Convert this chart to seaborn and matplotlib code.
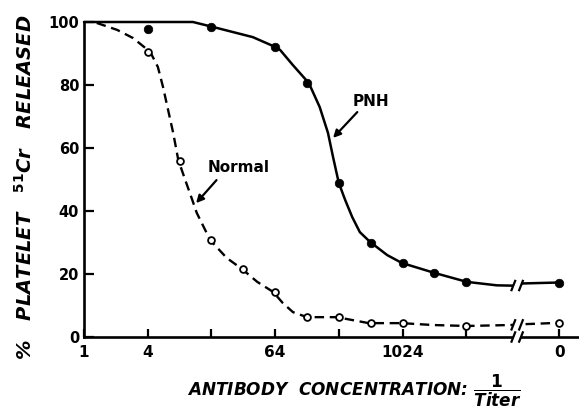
import numpy as np
import pandas as pd
import matplotlib
matplotlib.use("Agg")
import matplotlib.pyplot as plt
import seaborn as sns

pnh_titer = [4, 16, 64, 128, 256, 512, 1024, 2048, 4096, 0]
pnh_release = [97.8, 98.4, 92, 80.6, 49, 30, 23.6, 20.4, 17.5, 17.3]

normal_titer = [4, 8, 16, 32, 64, 128, 256, 512, 1024, 4096, 0]
normal_release = [90.6, 56, 30.8, 21.6, 14.4, 6.2, 6.2, 4.5, 4.5, 3.5, 4.5]

# hand-drawn curves (x in log4 units of titer,
# 7.46 = the "0" column past the axis break)
pnh_curve_x = [0, 1.71, 2.03, 2.34, 2.65, 3.0, 3.08, 3.28, 3.53, 3.70, 3.83,
               3.91, 4.0, 4.10, 4.21, 4.33, 4.49, 4.76, 4.99, 5.51, 6.01,
               6.48, 6.73, 6.89, 7.46]
pnh_curve_y = [100, 100, 98.4, 96.8, 95.2, 92.1, 91.1, 86.3, 80.6, 73.0, 64.8,
               57.1, 48.9, 43.5, 38.1, 33.3, 30.2, 26.0, 23.5, 20.3, 17.5,
               16.4, 16.3, 17.0, 17.3]

normal_curve_x = [0.20, 0.52, 0.77, 1.04, 1.16, 1.24, 1.32, 1.40, 1.48, 1.59,
                  1.70, 1.77, 1.98, 2.24, 2.48, 2.72, 2.97, 3.12, 3.28, 3.50,
                  3.97, 4.47, 4.99, 5.48, 6.01, 6.69, 6.95, 7.46]
normal_curve_y = [99.7, 97.5, 94.9, 90.5, 85.7, 79.4, 72.1, 64.8, 56.2, 49.8,
                  43.5, 39.4, 30.8, 25.1, 21.6, 17.5, 14.3, 10.8, 7.9, 6.3,
                  6.3, 4.4, 4.4, 3.8, 3.5, 3.8, 4.1, 4.5]

xtick_titers = [1, 4, 16, 64, 256, 1024, 4096, 0]
xtick_labels = ["1", "4", "", "64", "", "1024", "", "0"]
yticks = [0, 20, 40, 60, 80, 100]

ZERO_POS = 7.46
BREAK = (6.74, 6.86)


def to_pos(titers):
    t = np.asarray(titers, dtype=float)
    return np.where(t > 0, np.log(np.where(t > 0, t, 1)) / np.log(4), ZERO_POS)


pnh_pts = pd.DataFrame({"pos": to_pos(pnh_titer), "release": pnh_release})
normal_pts = pd.DataFrame({"pos": to_pos(normal_titer), "release": normal_release})
pnh_line = pd.DataFrame({"pos": pnh_curve_x, "release": pnh_curve_y})
normal_line = pd.DataFrame({"pos": normal_curve_x, "release": normal_curve_y})

sns.set_style("ticks")
plt.rcParams["font.family"] = ["DejaVu Sans"]
plt.rcParams["mathtext.fontset"] = "custom"
plt.rcParams["mathtext.rm"] = "DejaVu Sans:bold"
plt.rcParams["mathtext.it"] = "DejaVu Sans:italic:bold"
for key in ["text.color", "axes.labelcolor", "xtick.color", "ytick.color",
            "axes.edgecolor"]:
    plt.rcParams[key] = "black"

fig = plt.figure(figsize=(5.79, 4.12), dpi=100)
ax = fig.add_axes([84 / 579, 75 / 412, 494 / 579, 315 / 412])

sns.lineplot(data=pnh_line, x="pos", y="release", ax=ax, color="black",
             lw=1.8, errorbar=None, sort=False, clip_on=False, zorder=2)
sns.lineplot(data=normal_line, x="pos", y="release", ax=ax, color="black",
             lw=1.7, linestyle=(0, (4.0, 2.4)), errorbar=None, sort=False,
             clip_on=False, zorder=2)
sns.scatterplot(data=pnh_pts, x="pos", y="release", ax=ax, color="black",
                s=38, edgecolor="black", linewidth=0.5, zorder=4, clip_on=False)
sns.scatterplot(data=normal_pts, x="pos", y="release", ax=ax, color="white",
                s=24, edgecolor="black", linewidth=1.3, zorder=4, clip_on=False)

ax.set_xlim(0, 7.755)
ax.set_ylim(0, 100)

# broken axis: white gap plus slash marks on the axis and both curves
ax.axvspan(BREAK[0], BREAK[1], ymin=-0.015, ymax=0.25, color="white",
           zorder=3, clip_on=False, lw=0)
for y in [0,
          np.interp(BREAK[0], pnh_line["pos"], pnh_line["release"]),
          np.interp(BREAK[0], normal_line["pos"], normal_line["release"])]:
    for bx in BREAK:
        ax.plot([bx - 0.035, bx + 0.035], [y - 1.8, y + 1.8], color="black",
                lw=1.6, clip_on=False, zorder=4, solid_capstyle="butt")

ax.set_xticks(to_pos(xtick_titers))
ax.set_xticklabels(xtick_labels)
ax.set_yticks(yticks)

for side in ["top", "right"]:
    ax.spines[side].set_visible(False)
for side in ["left", "bottom"]:
    ax.spines[side].set_linewidth(1.9)

ax.tick_params(axis="y", direction="in", length=7, width=1.6, pad=3.5,
               labelsize=10.5)
ax.tick_params(axis="x", direction="in", length=6, width=1.6, pad=6,
               labelsize=11)
for lab in ax.get_xticklabels() + ax.get_yticklabels():
    lab.set_fontweight("bold")

ax.set_ylabel(r"%   PLATELET   $^{51}$Cr   RELEASED", fontsize=14,
              fontweight="bold", fontstyle="italic", va="center")
ax.yaxis.set_label_coords(-0.119, 0.476)
ax.set_xlabel(r"ANTIBODY  CONCENTRATION: $\dfrac{1}{Titer}$", fontsize=12.2,
              fontweight="bold", fontstyle="italic", va="center")
ax.xaxis.set_label_coords(0.5466, -0.172)

# curve labels with arrows
ax.text(4.51, 74.9, "PNH", fontsize=11, fontweight="bold",
        ha="center", va="center")
ax.annotate("", xy=(3.91, 63.2), xytext=(4.29, 71.4),
            arrowprops=dict(arrowstyle="-|>", lw=1.6, color="black",
                            mutation_scale=11, shrinkA=0, shrinkB=0))
ax.text(2.42, 53.7, "Normal", fontsize=11, fontweight="bold",
        ha="center", va="center")
ax.annotate("", xy=(1.76, 42.5), xytext=(2.08, 49.8),
            arrowprops=dict(arrowstyle="-|>", lw=1.6, color="black",
                            mutation_scale=11, shrinkA=0, shrinkB=0))

fig.savefig("out.png", dpi=100)
